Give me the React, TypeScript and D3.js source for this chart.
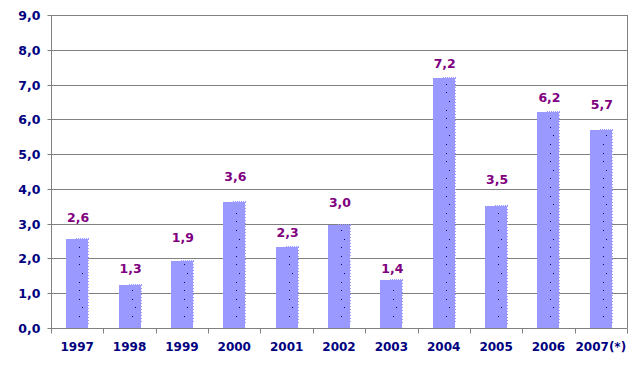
import React, { useEffect, useRef } from 'react';
import * as d3 from 'd3';

const years = ['1997', '1998', '1999', '2000', '2001', '2002', '2003', '2004', '2005', '2006', '2007(*)'];
const values = [2.55, 1.25, 1.92, 3.62, 2.32, 2.95, 1.37, 7.2, 3.5, 6.2, 5.7];
const valueLabels = ['2,6', '1,3', '1,9', '3,6', '2,3', '3,0', '1,4', '7,2', '3,5', '6,2', '5,7'];
// where each value label sits (in axis units)
const labelLevels = [3.19, 1.72, 2.61, 4.37, 2.76, 3.62, 1.7, 7.61, 4.28, 6.64, 6.44];
const yTicks = [0, 1, 2, 3, 4, 5, 6, 7, 8, 9];

const App = () => {
  const ref = useRef<SVGSVGElement>(null);

  useEffect(() => {
    const width = 643,
      height = 365,
      margin = { top: 15, right: 16, bottom: 37, left: 51 };
    const font = "'DejaVu Sans', Verdana, sans-serif";

    const svg = d3.select(ref.current);
    svg.selectAll('*').remove();

    const innerW = width - margin.left - margin.right;
    const innerH = height - margin.top - margin.bottom;

    const g = svg.append('g').attr('transform', `translate(${margin.left},${margin.top})`);

    const x = d3.scaleBand().domain(years).range([0, innerW]).padding(0);
    const y = d3.scaleLinear().domain([0, 9]).range([innerH, 0]);
    const barW = 22;

    // gridlines
    g.selectAll('.grid')
      .data(yTicks.slice(1))
      .enter()
      .append('line')
      .attr('x1', 0)
      .attr('x2', innerW)
      .attr('y1', d => Math.round(y(d)) + 0.5)
      .attr('y2', d => Math.round(y(d)) + 0.5)
      .attr('stroke', '#808080')
      .attr('stroke-width', 1);

    // right border of plot area
    g.append('line')
      .attr('x1', innerW + 0.5)
      .attr('x2', innerW + 0.5)
      .attr('y1', y(9))
      .attr('y2', y(0))
      .attr('stroke', '#808080');

    // bars
    const bars = g.selectAll('.bar')
      .data(values)
      .enter()
      .append('g')
      .attr('class', 'bar')
      .attr('transform', (d, i) => `translate(${Math.round(x(years[i])! + x.bandwidth() / 2 - barW / 2)},0)`);

    bars.append('rect')
      .attr('x', 0)
      .attr('y', d => Math.round(y(d)))
      .attr('width', barW)
      .attr('height', d => Math.round(y(0)) - Math.round(y(d)))
      .attr('fill', '#9999ff');

    // dotted right and top edges
    bars.append('line')
      .attr('x1', barW + 0.5)
      .attr('x2', barW + 0.5)
      .attr('y1', d => Math.round(y(d)))
      .attr('y2', d => Math.round(y(0)) - 4)
      .attr('stroke', '#9999ff')
      .attr('stroke-dasharray', '1,2');
    bars.append('line')
      .attr('x1', barW - 12)
      .attr('x2', barW + 1)
      .attr('y1', d => Math.round(y(d)) - 0.5)
      .attr('y2', d => Math.round(y(d)) - 0.5)
      .attr('stroke', '#9999ff')
      .attr('stroke-dasharray', '1,1');

    // scattered dark specks
    bars.each(function (d) {
      const top = Math.round(y(d));
      const bottom = Math.round(y(0));
      const pts = d3.range(bottom - 12, top + 3, -8.6);
      d3.select(this)
        .selectAll('.speck')
        .data(pts)
        .enter()
        .append('rect')
        .attr('x', (p, k) => (k % 4 === 1 ? 16 : 13))
        .attr('y', p => Math.round(p))
        .attr('width', 1)
        .attr('height', 1)
        .attr('fill', '#000080');
    });

    // value labels
    g.selectAll('.vlabel')
      .data(valueLabels)
      .enter()
      .append('text')
      .attr('x', (d, i) => x(years[i])! + x.bandwidth() / 2 + 1)
      .attr('y', (d, i) => y(labelLevels[i]))
      .attr('dy', '0.36em')
      .attr('text-anchor', 'middle')
      .attr('font-family', font)
      .attr('font-weight', 'bold')
      .attr('font-size', 12.5)
      .attr('fill', '#800080')
      .text(d => d);

    // X axis
    const xAxis = d3.axisBottom(x).tickSize(0).tickPadding(14);
    const xg = g.append('g')
      .attr('transform', `translate(0,${Math.round(y(0)) + 0.5})`)
      .call(xAxis);
    xg.select('.domain').attr('stroke', '#808080').attr('d', `M0.5,0H${innerW + 0.5}`);
    xg.selectAll('text')
      .attr('font-family', font)
      .attr('font-weight', 'bold')
      .attr('font-size', 12)
      .attr('fill', '#000080');
    xg.selectAll('.edge')
      .data(d3.range(years.length + 1))
      .enter()
      .append('line')
      .attr('x1', i => Math.round(i * x.step()) + 0.5)
      .attr('x2', i => Math.round(i * x.step()) + 0.5)
      .attr('y1', 0)
      .attr('y2', 5)
      .attr('stroke', '#808080');

    // Y axis
    const yAxis = d3.axisLeft(y)
      .tickValues(yTicks)
      .tickSize(4)
      .tickPadding(7)
      .tickFormat(d => d3.format('.1f')(d as number).replace('.', ','));
    const yg = g.append('g')
      .attr('transform', 'translate(0.5,0)')
      .call(yAxis);
    yg.select('.domain').attr('stroke', '#808080').attr('d', `M0,${y(9)}V${Math.round(y(0)) + 5}`);
    yg.selectAll('.tick line').attr('stroke', '#808080');
    yg.selectAll('.tick').attr('transform', d => `translate(0,${Math.round(y(d as number)) + 0.5})`);
    yg.selectAll('text')
      .attr('font-family', font)
      .attr('font-weight', 'bold')
      .attr('font-size', 12.5)
      .attr('fill', '#000080');
  }, []);

  return (
    <div style={{ position: 'absolute', left: 0, top: 0 }}>
      <svg ref={ref} width={643} height={365} style={{ display: 'block', background: '#fff' }} />
    </div>
  );
};

export default App;
